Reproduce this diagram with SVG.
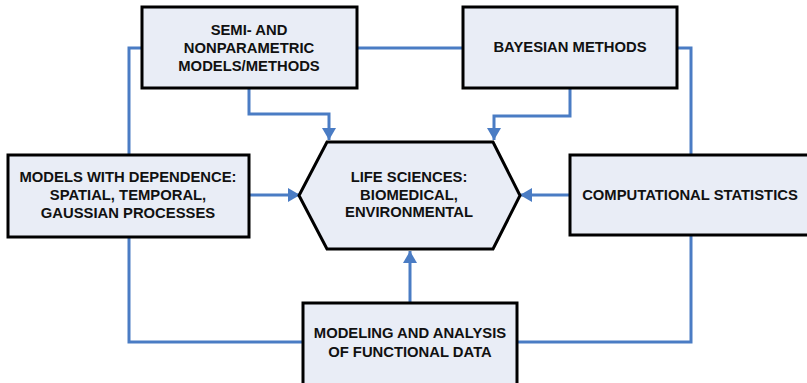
<svg xmlns="http://www.w3.org/2000/svg" width="807" height="383" viewBox="0 0 807 383">
<style>
.box{fill:#E9EDF6;stroke:#000;stroke-width:3}
.c{fill:none;stroke:#4A7CC4;stroke-width:3}
.t{font-family:"Liberation Sans",Arial,sans-serif;font-weight:bold;font-size:14.8px;fill:#111;text-anchor:middle}
</style>
<defs>
<marker id="a" markerUnits="userSpaceOnUse" markerWidth="14" markerHeight="14" viewBox="0 0 12 14" refX="12" refY="7" orient="auto">
<path d="M0,0 L12,7 L0,14 Z" fill="#4A7CC4"/>
</marker>
</defs>
<g id="connectors">
<path class="c" d="M142,48 H129 V155"/>
<path class="c" d="M357,48 H463"/>
<path class="c" d="M249,88 V114 H329 V140" marker-end="url(#a)"/>
<path class="c" d="M570,88 V116 H494 V140" marker-end="url(#a)"/>
<path class="c" d="M677,48 H691 V155"/>
<path class="c" d="M249,195 H300" marker-end="url(#a)"/>
<path class="c" d="M570,195 H520" marker-end="url(#a)"/>
<path class="c" d="M129,237 V342 H303"/>
<path class="c" d="M691,235 V342 H517"/>
<path class="c" d="M410,303 V251" marker-end="url(#a)"/>
</g>
<g id="semi">
<rect class="box" x="142" y="7" width="215" height="81"/>
<text class="t" x="249" y="35">SEMI- AND</text>
<text class="t" x="249" y="53">NONPARAMETRIC</text>
<text class="t" x="249" y="71">MODELS/METHODS</text>
</g>
<g id="bayes">
<rect class="box" x="463" y="7" width="214" height="81"/>
<text class="t" x="570" y="52">BAYESIAN METHODS</text>
</g>
<g id="models">
<rect class="box" x="8" y="155" width="241" height="82"/>
<text class="t" x="128" y="182">MODELS WITH DEPENDENCE:</text>
<text class="t" x="128" y="200">SPATIAL, TEMPORAL,</text>
<text class="t" x="128" y="218">GAUSSIAN PROCESSES</text>
</g>
<g id="life">
<polygon class="box" points="327,142 493,142 520,195.5 493,249 327,249 299,195.5"/>
<text class="t" x="409" y="182">LIFE SCIENCES:</text>
<text class="t" x="409" y="200">BIOMEDICAL,</text>
<text class="t" x="409" y="217">ENVIRONMENTAL</text>
</g>
<g id="comp">
<rect class="box" x="570" y="155" width="245" height="80"/>
<text class="t" x="690" y="200">COMPUTATIONAL STATISTICS</text>
</g>
<g id="functional">
<rect class="box" x="303" y="303" width="214" height="90"/>
<text class="t" x="410" y="338">MODELING AND ANALYSIS</text>
<text class="t" x="410" y="357">OF FUNCTIONAL DATA</text>
</g>
</svg>
